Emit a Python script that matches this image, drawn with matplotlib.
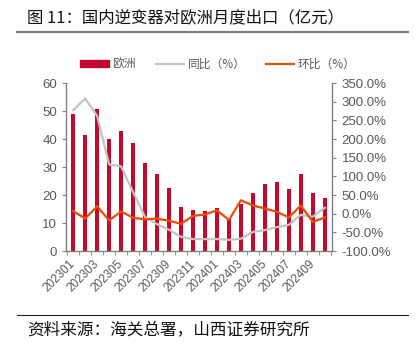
import matplotlib
matplotlib.use("Agg")
import matplotlib.pyplot as plt
import matplotlib.transforms as mtrans
import numpy as np
from matplotlib.lines import Line2D
from matplotlib.patches import Patch

plt.rcParams['font.family'] = ['Liberation Sans', 'Noto Sans CJK SC', 'DejaVu Sans']
cjk = ['Noto Sans CJK SC', 'DejaVu Sans']

months = ['202301', '202302', '202303', '202304', '202305', '202306', '202307', '202308',
          '202309', '202310', '202311', '202312', '202401', '202402', '202403', '202404',
          '202405', '202406', '202407', '202408', '202409', '202410']
europe = [48.9, 41.3, 50.8, 40.1, 42.9, 38.5, 31.6, 27.4, 22.4, 15.9, 14.6,
          14.3, 15.4, 11.8, 16.7, 20.9, 24.1, 24.6, 22.3, 27.4, 20.9, 18.9]
yoy = [277, 309, 262, 132, 127, 58, -9, -28, -43, -62, -68,
       -68, -68, -70, -67, -49, -44, -36, -30, -3, -8, 16]
mom = [7, -13, 20, -18, 6, -11, -15, -13, -19, -27, -6,
       -2, 9, -17, 36, 22, 14, 5, -10, 22, -22, -10]

red = '#C4092F'
grey = '#C4C4C4'
orange = '#F04A0A'
axis_c = '#808080'
text_c = '#595959'

fig = plt.figure(figsize=(4.15, 3.42), dpi=100)
ax = fig.add_axes([0.159, 0.266, 0.641, 0.491])
ax2 = ax.twinx()

x = np.arange(len(months))
ax.bar(x, europe, width=0.38, color=red, zorder=2)
ax2.plot(x, yoy, color=grey, lw=1.6, zorder=3)
ax2.plot(x, mom, color=orange, lw=1.6, zorder=4)

ax.set_xlim(-0.6, len(months) - 0.4)
ax.set_ylim(0, 60)
ax.set_yticks(range(0, 61, 10))
ax2.set_ylim(-100, 350)
ax2.set_yticks(range(-100, 351, 50))
ax2.set_yticklabels([f'{v:.1f}%' for v in range(-100, 351, 50)])

ax.set_xticks(x[::2])
ax.set_xticklabels(months[::2], rotation=45, ha='right', rotation_mode='anchor')
ax.set_xticks(np.arange(-0.5, len(months), 1), minor=True)
ax.tick_params(axis='x', which='major', length=0, pad=5, labelsize=8.5, labelcolor=text_c)
ax.tick_params(axis='x', which='minor', length=3, color=axis_c)
ax.tick_params(axis='y', length=3, color=axis_c, labelsize=9.5, labelcolor=text_c)
ax2.tick_params(axis='y', length=3, color=axis_c, labelsize=9.5, labelcolor=text_c, pad=4)
shift = mtrans.ScaledTranslation(-4 / 100, 0, fig.dpi_scale_trans)
for lab in ax.get_xticklabels():
    lab.set_transform(lab.get_transform() + shift)

for a in (ax, ax2):
    for s in a.spines.values():
        s.set_visible(False)
ax.spines['left'].set_visible(True)
ax.spines['bottom'].set_visible(True)
ax2.spines['right'].set_visible(True)
for s in (ax.spines['left'], ax.spines['bottom'], ax2.spines['right']):
    s.set_color(axis_c)
    s.set_linewidth(1)

handles = [Patch(color=red), Line2D([], [], color=grey, lw=1.6), Line2D([], [], color=orange, lw=1.6)]
labels = ['欧洲', '同比（%）', '环比（%）']
fig.legend(handles, labels, loc='center', bbox_to_anchor=(0.525, 0.813), ncol=3, frameon=False,
           prop={'family': cjk, 'size': 8.5}, labelcolor=text_c, handlelength=2.4, handleheight=0.5,
           columnspacing=1.7, handletextpad=0.3)

fig.text(0.065, 0.948, '图 11：国内逆变器对欧洲月度出口（亿元）', fontsize=11.8, va='center',
         color='#111111', family=cjk)
fig.add_artist(Line2D([0.041, 0.983], [0.906, 0.906], color='#7f7f7f', lw=1.6))
fig.add_artist(Line2D([0.041, 0.983], [0.079, 0.079], color='#222222', lw=0.8))
fig.text(0.065, 0.032, '资料来源：海关总署，山西证券研究所', fontsize=12, va='center',
         color='#111111', family=cjk)

fig.savefig('out.png', dpi=100)
